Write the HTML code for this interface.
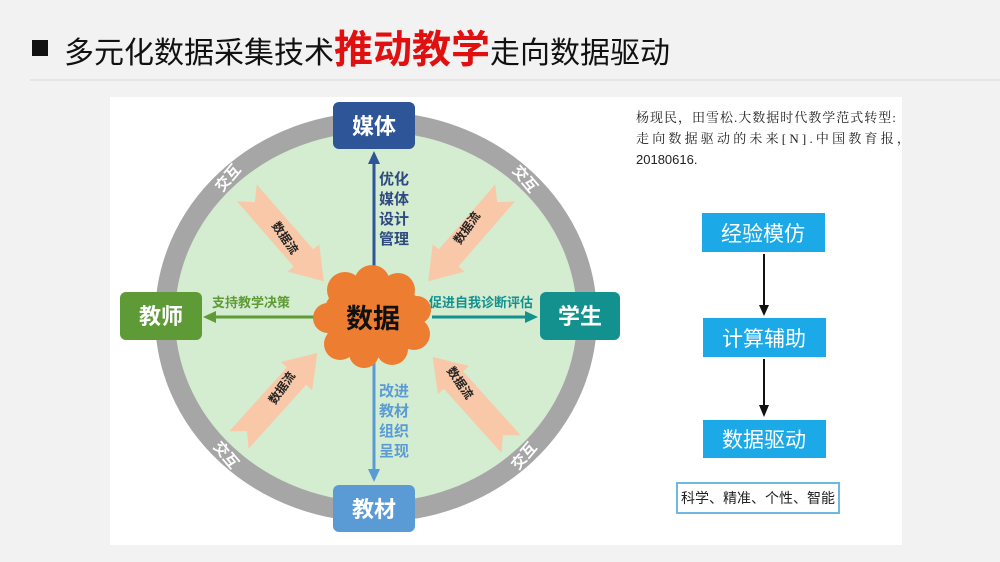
<!DOCTYPE html>
<html><head><meta charset="utf-8"><style>
html,body{margin:0;padding:0;}
body{width:1000px;height:562px;background:#f2f2f2;position:relative;overflow:hidden;font-family:"Liberation Sans","Noto Sans CJK SC",sans-serif;}
</style></head><body>
<svg width="1000" height="562" viewBox="0 0 1000 562" xmlns="http://www.w3.org/2000/svg" style="position:absolute;left:0;top:0">
<rect x="32" y="40" width="16" height="16" fill="#111"/>
<text x="64" y="63" font-size="30" fill="#111" font-family="Liberation Sans,Noto Sans CJK SC,sans-serif">多元化数据采集技术<tspan fill="#e01010" font-size="39" font-weight="bold">推动教学</tspan>走向数据驱动</text>
<line x1="30" y1="80" x2="1000" y2="80" stroke="#d8d8d8" stroke-width="1"/>
<rect x="110" y="97" width="792" height="448" fill="#fff"/>
<ellipse cx="376" cy="317" rx="211" ry="195" fill="#d4ecd0" stroke="#a6a6a6" stroke-width="20"/>
<g fill="#f8c8a8">
<polygon transform="translate(247,193) rotate(49)" points="0,-13 86,-13 86,-21 117,0 86,21 86,13 0,13 12,0"/>
<polygon transform="translate(505,193) rotate(131)" points="0,-13 86,-13 86,-21 117,0 86,21 86,13 0,13 12,0"/>
<polygon transform="translate(239,440) rotate(-48)" points="0,-13 86,-13 86,-21 117,0 86,21 86,13 0,13 12,0"/>
<polygon transform="translate(511,444) rotate(228)" points="0,-13 86,-13 86,-21 117,0 86,21 86,13 0,13 12,0"/>
</g>
<g font-size="12" font-weight="bold" fill="#222" text-anchor="middle">
<text transform="translate(285,238) rotate(55)" y="4">数据流</text>
<text transform="translate(467,228) rotate(-55)" y="4">数据流</text>
<text transform="translate(282,388) rotate(-55)" y="4">数据流</text>
<text transform="translate(460,383) rotate(55)" y="4">数据流</text>
</g>
<g font-size="15" font-weight="bold" fill="#fff" text-anchor="middle">
<text transform="translate(228,178) rotate(-50)" y="5">交互</text>
<text transform="translate(525,179) rotate(50)" y="5">交互</text>
<text transform="translate(226,455) rotate(50)" y="5">交互</text>
<text transform="translate(524,456) rotate(-50)" y="5">交互</text>
</g>
<line x1="374" y1="268" x2="374" y2="162" stroke="#2e5597" stroke-width="3"/>
<polygon points="368,164 380,164 374,151" fill="#2e5597"/>
<line x1="374" y1="362" x2="374" y2="470" stroke="#5b9bd5" stroke-width="3"/>
<polygon points="368,469 380,469 374,482" fill="#5b9bd5"/>
<line x1="316" y1="317" x2="215" y2="317" stroke="#5e9a36" stroke-width="3"/>
<polygon points="216,311 216,323 203,317" fill="#5e9a36"/>
<line x1="432" y1="317" x2="526" y2="317" stroke="#13918f" stroke-width="3"/>
<polygon points="525,311 525,323 538,317" fill="#13918f"/>
<g font-size="15" font-weight="bold" fill="#2e4a80">
<text x="379" y="184">优化</text><text x="379" y="204">媒体</text><text x="379" y="224">设计</text><text x="379" y="244">管理</text>
</g>
<g font-size="15" font-weight="bold" fill="#5b9bd5">
<text x="379" y="396">改进</text><text x="379" y="416">教材</text><text x="379" y="436">组织</text><text x="379" y="456">呈现</text>
</g>
<text x="212" y="307" font-size="13" font-weight="bold" fill="#5e9a36">支持教学决策</text>
<text x="429" y="307" font-size="13" font-weight="bold" fill="#13918f">促进自我诊断评估</text>
<g fill="#ed7d31">
<ellipse cx="373" cy="317" rx="50" ry="40"/>
<circle cx="345" cy="290" r="18"/><circle cx="372" cy="283" r="18"/><circle cx="398" cy="290" r="17"/>
<circle cx="417" cy="310" r="14"/><circle cx="414" cy="334" r="16"/><circle cx="392" cy="349" r="16"/>
<circle cx="364" cy="353" r="15"/><circle cx="340" cy="344" r="16"/><circle cx="328" cy="318" r="15"/>
</g>
<text x="373" y="328" font-size="27" font-weight="bold" fill="#111" text-anchor="middle">数据</text>
<rect x="333" y="102" width="82" height="47" rx="6" fill="#2e5597"/>
<text x="374" y="134" font-size="22" font-weight="bold" fill="#fff" text-anchor="middle">媒体</text>
<rect x="333" y="485" width="82" height="47" rx="6" fill="#5b9bd5"/>
<text x="374" y="517" font-size="22" font-weight="bold" fill="#fff" text-anchor="middle">教材</text>
<rect x="120" y="292" width="82" height="48" rx="6" fill="#5e9a36"/>
<text x="161" y="324" font-size="22" font-weight="bold" fill="#fff" text-anchor="middle">教师</text>
<rect x="540" y="292" width="80" height="48" rx="6" fill="#13918f"/>
<text x="580" y="324" font-size="22" font-weight="bold" fill="#fff" text-anchor="middle">学生</text>
<g font-size="13" fill="#222" font-family="Liberation Serif,Noto Serif CJK SC,serif">
<text x="636" y="122" letter-spacing="1">杨现民，田雪松.大数据时代教学范式转型:</text>
<text x="636" y="143" letter-spacing="3.2">走向数据驱动的未来[N].中国教育报，</text>
<text x="636" y="164" font-family="Liberation Sans,sans-serif">20180616.</text>
</g>
<rect x="702" y="213" width="123" height="39" fill="#1ba9e8"/>
<text x="763" y="241" font-size="21" fill="#fff" text-anchor="middle">经验模仿</text>
<rect x="703" y="318" width="123" height="39" fill="#1ba9e8"/>
<text x="764" y="346" font-size="21" fill="#fff" text-anchor="middle">计算辅助</text>
<rect x="703" y="420" width="123" height="38" fill="#1ba9e8"/>
<text x="764" y="447" font-size="21" fill="#fff" text-anchor="middle">数据驱动</text>
<line x1="764" y1="254" x2="764" y2="306" stroke="#111" stroke-width="2"/>
<polygon points="759,305 769,305 764,316" fill="#111"/>
<line x1="764" y1="359" x2="764" y2="406" stroke="#111" stroke-width="2"/>
<polygon points="759,405 769,405 764,417" fill="#111"/>
<rect x="677" y="483" width="162" height="30" fill="#fff" stroke="#6fb8e0" stroke-width="2"/>
<text x="758" y="503" font-size="14" fill="#222" text-anchor="middle">科学、精准、个性、智能</text>
</svg>
</body></html>
